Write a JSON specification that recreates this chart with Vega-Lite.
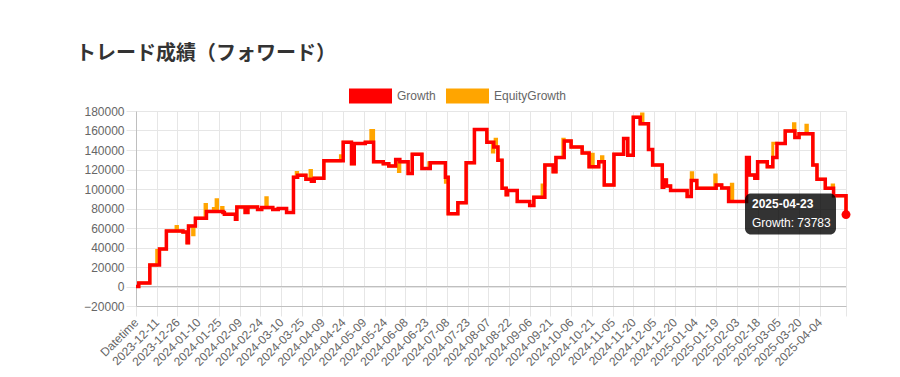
{
  "$schema": "https://vega.github.io/schema/vega-lite/v6.json",
  "width": 710,
  "height": 195,
  "autosize": {"type": "none"},
  "padding": {"left": 136, "top": 111, "right": 54, "bottom": 71},
  "background": "#ffffff",
  "config": {
    "view": {"stroke": null},
    "font": "Liberation Sans"
  },
  "title": {
    "text": "トレード成績（フォワード）",
    "anchor": "start",
    "frame": "group",
    "dx": -60,
    "offset": -6,
    "baseline": "alphabetic",
    "font": "Noto Sans CJK JP",
    "fontSize": 20,
    "fontWeight": "bold",
    "color": "#333333"
  },
  "datasets": {
    "series": [
      {"d": "2023-11-26", "g": 0, "e": 0},
      {"d": "2023-11-28", "g": 3500, "e": 3500},
      {"d": "2023-12-06", "g": 22000, "e": 22000},
      {"d": "2023-12-11", "g": 22000, "e": 37000},
      {"d": "2023-12-13", "g": 38500, "e": 38500},
      {"d": "2023-12-18", "g": 57000, "e": 57000},
      {"d": "2023-12-25", "g": 57000, "e": 61500},
      {"d": "2023-12-26", "g": 57000, "e": 57000},
      {"d": "2023-12-30", "g": 56000, "e": 56000},
      {"d": "2024-01-02", "g": 44800, "e": 44800},
      {"d": "2024-01-03", "g": 62000, "e": 62000},
      {"d": "2024-01-06", "g": 62000, "e": 53000},
      {"d": "2024-01-07", "g": 62000, "e": 62000},
      {"d": "2024-01-08", "g": 70000, "e": 70000},
      {"d": "2024-01-15", "g": 70000, "e": 84000},
      {"d": "2024-01-16", "g": 77000, "e": 77000},
      {"d": "2024-01-21", "g": 77000, "e": 80000},
      {"d": "2024-01-23", "g": 77000, "e": 89000},
      {"d": "2024-01-24", "g": 77000, "e": 77000},
      {"d": "2024-01-27", "g": 77000, "e": 81000},
      {"d": "2024-01-28", "g": 76000, "e": 76000},
      {"d": "2024-01-29", "g": 74000, "e": 74000},
      {"d": "2024-02-06", "g": 69000, "e": 69000},
      {"d": "2024-02-07", "g": 81500, "e": 81500},
      {"d": "2024-02-13", "g": 76000, "e": 76000},
      {"d": "2024-02-15", "g": 81500, "e": 81500},
      {"d": "2024-02-22", "g": 79000, "e": 79000},
      {"d": "2024-02-25", "g": 81000, "e": 81000},
      {"d": "2024-02-28", "g": 81000, "e": 91000},
      {"d": "2024-02-29", "g": 81000, "e": 81000},
      {"d": "2024-03-04", "g": 79000, "e": 79000},
      {"d": "2024-03-08", "g": 80000, "e": 80000},
      {"d": "2024-03-14", "g": 76000, "e": 76000},
      {"d": "2024-03-19", "g": 112000, "e": 112000},
      {"d": "2024-03-21", "g": 112000, "e": 117000},
      {"d": "2024-03-22", "g": 114000, "e": 114000},
      {"d": "2024-03-28", "g": 110000, "e": 110000},
      {"d": "2024-03-31", "g": 110000, "e": 119000},
      {"d": "2024-04-01", "g": 108000, "e": 108000},
      {"d": "2024-04-03", "g": 111000, "e": 111000},
      {"d": "2024-04-10", "g": 129000, "e": 129000},
      {"d": "2024-04-22", "g": 129000, "e": 134000},
      {"d": "2024-04-24", "g": 148000, "e": 148000},
      {"d": "2024-04-30", "g": 126000, "e": 126000},
      {"d": "2024-05-02", "g": 146600, "e": 146600},
      {"d": "2024-05-10", "g": 148000, "e": 148000},
      {"d": "2024-05-14", "g": 148000, "e": 160000},
      {"d": "2024-05-16", "g": 128000, "e": 128000},
      {"d": "2024-05-23", "g": 126000, "e": 126000},
      {"d": "2024-05-27", "g": 123500, "e": 123500},
      {"d": "2024-06-01", "g": 130300, "e": 130300},
      {"d": "2024-06-03", "g": 130300, "e": 118000},
      {"d": "2024-06-04", "g": 128000, "e": 128000},
      {"d": "2024-06-10", "g": 116000, "e": 116000},
      {"d": "2024-06-13", "g": 135700, "e": 135700},
      {"d": "2024-06-20", "g": 121000, "e": 121000},
      {"d": "2024-06-25", "g": 121000, "e": 127000},
      {"d": "2024-06-26", "g": 127000, "e": 127000},
      {"d": "2024-07-07", "g": 112000, "e": 107000},
      {"d": "2024-07-08", "g": 112000, "e": 112000},
      {"d": "2024-07-09", "g": 74600, "e": 74600},
      {"d": "2024-07-16", "g": 86000, "e": 86000},
      {"d": "2024-07-22", "g": 127000, "e": 127000},
      {"d": "2024-07-28", "g": 161000, "e": 161000},
      {"d": "2024-08-06", "g": 148000, "e": 148000},
      {"d": "2024-08-10", "g": 148000, "e": 138000},
      {"d": "2024-08-11", "g": 143000, "e": 143000},
      {"d": "2024-08-12", "g": 143000, "e": 151000},
      {"d": "2024-08-13", "g": 143000, "e": 143000},
      {"d": "2024-08-14", "g": 129600, "e": 129600},
      {"d": "2024-08-17", "g": 100800, "e": 100800},
      {"d": "2024-08-20", "g": 94000, "e": 94000},
      {"d": "2024-08-21", "g": 98400, "e": 98400},
      {"d": "2024-08-28", "g": 87200, "e": 87200},
      {"d": "2024-09-06", "g": 83000, "e": 83000},
      {"d": "2024-09-09", "g": 91600, "e": 91600},
      {"d": "2024-09-15", "g": 91600, "e": 104000},
      {"d": "2024-09-17", "g": 124500, "e": 124500},
      {"d": "2024-09-23", "g": 117700, "e": 117700},
      {"d": "2024-09-25", "g": 132400, "e": 132400},
      {"d": "2024-09-30", "g": 132400, "e": 151000},
      {"d": "2024-10-01", "g": 149300, "e": 149300},
      {"d": "2024-10-06", "g": 143200, "e": 143200},
      {"d": "2024-10-14", "g": 137000, "e": 137000},
      {"d": "2024-10-19", "g": 122800, "e": 122800},
      {"d": "2024-10-21", "g": 122800, "e": 135700},
      {"d": "2024-10-22", "g": 122800, "e": 122800},
      {"d": "2024-10-26", "g": 128000, "e": 128000},
      {"d": "2024-10-28", "g": 128000, "e": 133000},
      {"d": "2024-10-29", "g": 128000, "e": 128000},
      {"d": "2024-10-30", "g": 104200, "e": 104200},
      {"d": "2024-11-06", "g": 135700, "e": 135700},
      {"d": "2024-11-13", "g": 151700, "e": 151700},
      {"d": "2024-11-16", "g": 134700, "e": 134700},
      {"d": "2024-11-20", "g": 173700, "e": 173700},
      {"d": "2024-11-25", "g": 167000, "e": 167000},
      {"d": "2024-11-26", "g": 167000, "e": 177000},
      {"d": "2024-11-27", "g": 167000, "e": 167000},
      {"d": "2024-12-01", "g": 140500, "e": 140500},
      {"d": "2024-12-04", "g": 124500, "e": 124500},
      {"d": "2024-12-11", "g": 101800, "e": 101800},
      {"d": "2024-12-12", "g": 109300, "e": 109300},
      {"d": "2024-12-14", "g": 103000, "e": 103000},
      {"d": "2024-12-17", "g": 98400, "e": 98400},
      {"d": "2024-12-29", "g": 92300, "e": 92300},
      {"d": "2025-01-01", "g": 108600, "e": 116700},
      {"d": "2025-01-02", "g": 108600, "e": 108600},
      {"d": "2025-01-05", "g": 100800, "e": 100800},
      {"d": "2025-01-18", "g": 100800, "e": 114400},
      {"d": "2025-01-19", "g": 104200, "e": 104200},
      {"d": "2025-01-23", "g": 101000, "e": 101000},
      {"d": "2025-01-28", "g": 87200, "e": 87200},
      {"d": "2025-01-30", "g": 87200, "e": 105000},
      {"d": "2025-01-31", "g": 87200, "e": 87200},
      {"d": "2025-02-10", "g": 132300, "e": 132300},
      {"d": "2025-02-12", "g": 114400, "e": 114400},
      {"d": "2025-02-16", "g": 111000, "e": 111000},
      {"d": "2025-02-18", "g": 127900, "e": 127900},
      {"d": "2025-02-25", "g": 122800, "e": 122800},
      {"d": "2025-03-01", "g": 132300, "e": 147000},
      {"d": "2025-03-04", "g": 146600, "e": 146600},
      {"d": "2025-03-10", "g": 159500, "e": 159500},
      {"d": "2025-03-16", "g": 159500, "e": 167000},
      {"d": "2025-03-17", "g": 152700, "e": 152700},
      {"d": "2025-03-20", "g": 156600, "e": 156600},
      {"d": "2025-03-25", "g": 156600, "e": 165300},
      {"d": "2025-03-26", "g": 156600, "e": 156600},
      {"d": "2025-03-30", "g": 124500, "e": 124500},
      {"d": "2025-04-02", "g": 110000, "e": 110000},
      {"d": "2025-04-08", "g": 100800, "e": 100800},
      {"d": "2025-04-13", "g": 100800, "e": 104000},
      {"d": "2025-04-14", "g": 93000, "e": 93000},
      {"d": "2025-04-23", "g": 73783, "e": 73783}
    ],
    "tip": [
      {"d": "2025-04-23", "g": 73783, "date": "2025-04-23", "label": "Growth: 73783"}
    ]
  },
  "encoding": {
    "x": {
      "field": "d",
      "type": "temporal",
      "scale": {"type": "utc", "domain": [1700956800000, 1745366400000], "nice": false},
      "axis": {
        "title": null,
        "tickCount": 60,
        "values": [1700956800000, 1702252800000, 1703548800000, 1704844800000, 1706140800000, 1707436800000, 1708732800000, 1710028800000, 1711324800000, 1712620800000, 1713916800000, 1715212800000, 1716508800000, 1717804800000, 1719100800000, 1720396800000, 1721692800000, 1722988800000, 1724284800000, 1725580800000, 1726876800000, 1728172800000, 1729468800000, 1730764800000, 1732060800000, 1733356800000, 1734652800000, 1735948800000, 1737244800000, 1738540800000, 1739836800000, 1741132800000, 1742428800000, 1743724800000, 1745366400000],
        "labelExpr": "time(datum.value) < 1701000000000 ? 'Datetime' : (time(datum.value) > 1745000000000 ? '' : utcFormat(datum.value, '%Y-%m-%d'))",
        "labelAngle": -45,
        "labelAlign": "right",
        "labelBaseline": "middle",
        "labelOverlap": false,
        "labelFlush": false,
        "labelPadding": 4,
        "labelFont": "Liberation Sans",
        "labelFontSize": 12,
        "labelColor": "#666666",
        "tickSize": 10,
        "tickColor": "#e6e6e6",
        "gridColor": "#e6e6e6",
        "grid": true,
        "domainColor": "#bfbfbf"
      }
    }
  },
  "layer": [
    {
      "data": {"name": "series"},
      "mark": {"type": "rule", "color": "#bfbfbf", "strokeWidth": 1},
      "encoding": {"x": null, "y": {"datum": 0, "type": "quantitative"}}
    },
    {
      "data": {"name": "series"},
      "mark": {"type": "line", "interpolate": "step-after", "strokeWidth": 3},
      "encoding": {
        "y": {
          "field": "e",
          "type": "quantitative",
          "scale": {"domain": [-20000, 180000], "nice": false, "zero": false},
          "axis": {
            "title": null,
            "tickCount": 20,
            "values": [-20000, 0, 20000, 40000, 60000, 80000, 100000, 120000, 140000, 160000, 180000],
            "format": "d",
            "grid": true,
            "labelOverlap": false,
            "labelFlush": false,
            "labelFont": "Liberation Sans",
            "labelFontSize": 12,
            "labelColor": "#666666",
            "labelPadding": 2,
            "tickSize": 10,
            "tickColor": "#e6e6e6",
            "gridColor": "#e6e6e6",
            "domainColor": "#bfbfbf"
          }
        },
        "color": {
          "datum": "EquityGrowth",
          "scale": {"domain": ["Growth", "EquityGrowth"], "range": ["#ff0000", "#ffa500"]},
          "legend": {
            "orient": "none",
            "legendX": 213,
            "legendY": -37,
            "direction": "horizontal",
            "title": null,
            "padding": 0,
            "symbolType": "M-1,-0.35H1V0.35H-1Z",
            "symbolSize": 1849,
            "symbolStrokeWidth": 0,
            "labelFont": "Liberation Sans",
            "labelFontSize": 12,
            "labelColor": "#666666",
            "labelOffset": 5,
            "columnPadding": 10,
            "encode": {"symbols": {"update": {"fill": {"scale": "color", "field": "value"}, "opacity": {"value": 1}}}}
          }
        }
      }
    },
    {
      "data": {"name": "series"},
      "mark": {"type": "line", "interpolate": "step-after", "strokeWidth": 3.5},
      "encoding": {
        "y": {"field": "g", "type": "quantitative"},
        "color": {"datum": "Growth"}
      }
    },
    {
      "data": {"name": "tip"},
      "mark": {"type": "point", "filled": true, "color": "#ff0000", "size": 80, "opacity": 1},
      "encoding": {"y": {"field": "g", "type": "quantitative"}}
    },
    {
      "data": {"name": "tip"},
      "mark": {"type": "rect", "fill": "#000000", "fillOpacity": 0.8, "cornerRadius": 6, "xOffset": -101, "x2Offset": -10, "yOffset": -21, "y2Offset": 20},
      "encoding": {
        "x2": {"field": "d"},
        "y": {"field": "g", "type": "quantitative"},
        "y2": {"field": "g"}
      }
    },
    {
      "data": {"name": "tip"},
      "mark": {"type": "text", "align": "left", "baseline": "alphabetic", "dx": -94, "dy": -6.5, "font": "Liberation Sans", "fontSize": 12, "fontWeight": "bold", "color": "#ffffff"},
      "encoding": {
        "y": {"field": "g", "type": "quantitative"},
        "text": {"field": "date"}
      }
    },
    {
      "data": {"name": "tip"},
      "mark": {"type": "text", "align": "left", "baseline": "alphabetic", "dx": -94, "dy": 12, "font": "Liberation Sans", "fontSize": 12, "color": "#ffffff"},
      "encoding": {
        "y": {"field": "g", "type": "quantitative"},
        "text": {"field": "label"}
      }
    }
  ]
}
